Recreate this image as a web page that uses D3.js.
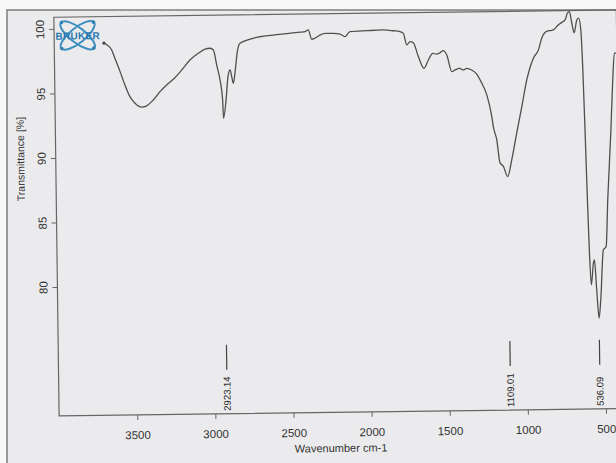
<!DOCTYPE html>
<html>
<head>
<meta charset="utf-8">
<script src="https://cdn.jsdelivr.net/npm/d3@7"></script>
<style>
  html, body { margin: 0; padding: 0; background: #f8f8f8; }
  svg { display: block; font-family: "Liberation Sans", Arial, sans-serif; }
</style>
</head>
<body>
<div id="chart"></div>
<script>
// spectrum (cm-1, %T)
const wavenumber = [3682, 3669, 3633, 3613, 3581, 3551, 3520, 3488, 3446, 3414,
  3371, 3327, 3284, 3241, 3186, 3133, 3079, 3035, 3003, 2982,
  2962, 2942, 2927, 2923, 2905, 2891, 2877, 2867, 2857, 2846,
  2829, 2811, 2726, 2598, 2426, 2394, 2373, 2352, 2331, 2297,
  2265, 2212, 2171, 2139, 2106, 1999, 1893, 1829, 1786, 1765,
  1744, 1723, 1702, 1671, 1636, 1607, 1579, 1553, 1532, 1511,
  1489, 1458, 1437, 1406, 1385, 1363, 1331, 1300, 1267, 1236,
  1206, 1197, 1176, 1157, 1136, 1109, 1082, 1048, 1013, 979,
  935, 902, 880, 848, 805, 773, 752, 729, 714, 701,
  686, 672, 654, 642, 629, 620, 610, 601, 593, 583,
  568, 561, 549, 536, 524, 503, 485, 471, 446, 430,
  416, 405];
const transmittance = [98.85, 98.75, 98.30, 97.66, 96.62, 95.58, 94.67, 94.15, 93.84, 93.94,
  94.39, 95.03, 95.54, 95.97, 96.69, 97.45, 97.96, 98.27, 98.34, 98.20,
  97.03, 95.87, 94.32, 92.90, 94.32, 96.12, 96.64, 96.12, 95.60, 96.38,
  98.05, 98.69, 99.07, 99.30, 99.49, 99.53, 99.66, 98.93, 99.01, 99.26,
  99.38, 99.37, 99.31, 99.10, 99.48, 99.54, 99.58, 99.51, 99.44, 99.30,
  98.40, 98.65, 98.56, 97.48, 96.57, 97.21, 97.72, 97.65, 97.76, 97.92,
  97.58, 96.28, 96.41, 96.53, 96.40, 96.52, 96.39, 96.08, 95.35, 94.45,
  92.76, 91.98, 90.95, 89.16, 88.89, 88.10, 89.38, 91.46, 93.50, 95.56,
  97.24, 97.88, 98.78, 99.30, 99.41, 99.79, 99.97, 100.17, 100.69, 100.81,
  99.91, 99.17, 100.16, 100.30, 99.38, 96.54, 91.38, 86.21, 82.33, 79.62,
  81.29, 81.55, 79.23, 77.03, 78.44, 82.32, 82.57, 86.18, 91.35, 95.22,
  97.55, 97.55];

const peakPositions = [2923.14, 1109.01, 536.09];
const peakLabels = ['2923.14', '1109.01', '536.09'];

const xTicks = [3500, 3000, 2500, 2000, 1500, 1000, 500];
const yTicks = [80, 85, 90, 95, 100];

const width = 616;
const height = 463;

const svg = d3.select('#chart')
  .append('svg')
  .attr('width', width)
  .attr('height', height);

// sheet of paper
svg.append('rect')
  .attr('x', 7).attr('y', 10)
  .attr('width', width - 7).attr('height', height - 10)
  .attr('fill', '#ebebed');
svg.append('path')
  .attr('d', `M7,${height} V10 H${width}`)
  .attr('fill', 'none')
  .attr('stroke', '#7d7d7d')
  .attr('stroke-width', 1.5);

// the printout was scanned a little crooked
const g = svg.append('g').attr('transform', 'rotate(-0.75 335 215)');

const x = d3.scaleLinear().domain([4000, 400]).range([56.5, 619]);
const y = d3.scaleLinear().domain([70, 101]).range([412.3, 12.3]);

const frameTop = y(100.9);
g.append('rect')
  .attr('x', x(4000)).attr('y', frameTop)
  .attr('width', x(400) - x(4000)).attr('height', y(70) - frameTop)
  .attr('fill', 'none')
  .attr('stroke', '#666')
  .attr('stroke-width', 1.2);

// x axis
const xAxis = g.append('g')
  .attr('transform', `translate(0,${y(70)})`)
  .call(d3.axisBottom(x).tickValues(xTicks).tickSize(5).tickPadding(11).tickFormat(d3.format('d')));
xAxis.select('.domain').remove();
xAxis.selectAll('line').attr('stroke', '#666');
xAxis.selectAll('text')
  .attr('font-size', '11.5px')
  .attr('fill', '#333')
  .style('font-family', '"Liberation Sans", Arial, sans-serif');

// y axis, labels turned on their side
const yAxis = g.append('g')
  .attr('transform', `translate(${x(4000)},0)`)
  .call(d3.axisLeft(y).tickValues(yTicks).tickSize(5).tickFormat(d3.format('d')));
yAxis.select('.domain').remove();
yAxis.selectAll('line').attr('stroke', '#666');
yAxis.selectAll('text')
  .attr('x', null).attr('dy', null)
  .attr('text-anchor', 'middle')
  .attr('transform', 'translate(-10,0) rotate(-90)')
  .attr('font-size', '11.5px')
  .attr('fill', '#333')
  .style('font-family', '"Liberation Sans", Arial, sans-serif');

g.append('text')
  .attr('transform', 'translate(25,155) rotate(-90)')
  .attr('text-anchor', 'middle')
  .attr('font-size', '10.5px')
  .attr('fill', '#333')
  .text('Transmittance [%]');

g.append('text')
  .attr('x', 338).attr('y', 452)
  .attr('text-anchor', 'middle')
  .attr('font-size', '11px')
  .attr('fill', '#333')
  .text('Wavenumber cm-1');

// Bruker logo
const logo = g.append('g').attr('transform', 'translate(80,32)');
[-38, 38].forEach(a => {
  logo.append('ellipse')
    .attr('rx', 21).attr('ry', 7.5)
    .attr('transform', `rotate(${a})`)
    .attr('fill', 'none')
    .attr('stroke', '#3d8fbf')
    .attr('stroke-width', 2);
});
[[-16, -13], [16, -13], [-16, 13], [16, 13]].forEach(p => {
  logo.append('circle')
    .attr('cx', p[0]).attr('cy', p[1]).attr('r', 1.8)
    .attr('fill', '#2f7fb2');
});
logo.append('text')
  .attr('x', 0).attr('y', 4)
  .attr('text-anchor', 'middle')
  .attr('font-size', '10px')
  .attr('font-weight', 'bold')
  .attr('letter-spacing', '0.3px')
  .attr('fill', '#2a78b0')
  .text('BRUKER');

// spectrum
const points = wavenumber.map((w, i) => [w, transmittance[i]]);
const line = d3.line()
  .x(d => x(d[0]))
  .y(d => y(d[1]))
  .curve(d3.curveMonotoneX);

g.append('path')
  .datum(points)
  .attr('d', line)
  .attr('fill', 'none')
  .attr('stroke', '#4f4f4f')
  .attr('stroke-width', 1.3)
  .attr('stroke-linejoin', 'round');

g.append('circle')
  .attr('cx', x(wavenumber[0])).attr('cy', y(transmittance[0]))
  .attr('r', 1.6)
  .attr('fill', '#444');

// peak picks
const bottom = y(70);
peakPositions.forEach((p, i) => {
  g.append('line')
    .attr('x1', x(p)).attr('x2', x(p))
    .attr('y1', bottom - 69).attr('y2', bottom - 44)
    .attr('stroke', '#444')
    .attr('stroke-width', 1.2);
  g.append('text')
    .attr('transform', `translate(${x(p) + 3.4},${bottom - 3}) rotate(-90)`)
    .attr('font-size', '9.5px')
    .attr('fill', '#222')
    .text(peakLabels[i]);
});
</script>
</body>
</html>
